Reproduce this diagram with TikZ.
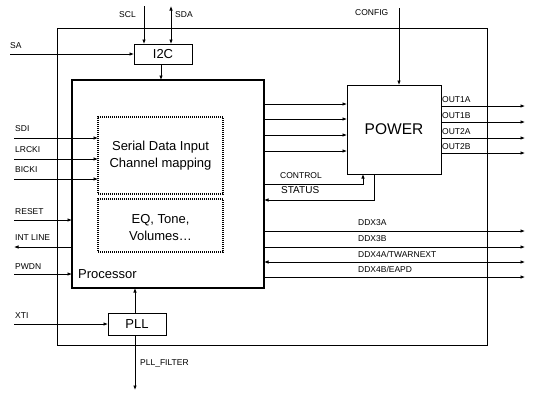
\documentclass[tikz,border=0pt]{standalone}
\usepackage{fontspec}
\setmainfont{Liberation Sans}
\usetikzlibrary{arrows.meta}
\begin{document}
\begin{tikzpicture}[x=1pt,y=-1pt,
  arr/.style={-{Latex[length=4.5pt,width=3.6pt]}, line width=0.8pt},
  barr/.style={{Latex[length=4.5pt,width=3.6pt]}-{Latex[length=4.5pt,width=3.6pt]}, line width=0.8pt},
  lbl/.style={font=\fontsize{8.5}{10}\selectfont, inner sep=0pt, anchor=west},
  box/.style={draw, line width=0.8pt, inner sep=0pt, outer sep=0pt},
  dbox/.style={draw, line width=1.4pt, dash pattern=on 1pt off 1pt, inner sep=0pt, outer sep=0pt},
  big/.style={font=\fontsize{13}{17}\selectfont, align=center}]
\useasboundingbox (0,0) rectangle (537,402);
\fill[white] (0,0) rectangle (537,402);
% chip frame
\node[box, minimum width=430, minimum height=317] (frame) at (272,186.5) {};
% blocks
\node[box, fill=white, minimum width=58, minimum height=20, font=\fontsize{13}{15}\selectfont] (i2c) at (163,54) {I2C};
\node[draw, line width=2.5pt, fill=white, inner sep=0pt, outer sep=0pt, minimum width=192, minimum height=208] (proc) at (168,184) {};
\node[font=\fontsize{13}{15}\selectfont, inner sep=0pt, anchor=west] (proclbl) at (78,274) {Processor};
\node[dbox, minimum width=125, minimum height=77] (sdi) at (160.5,155.5) {};
\node[big] (sditxt) at (sdi.center) {Serial Data Input\\Channel mapping};
\node[dbox, minimum width=125, minimum height=53] (eq) at (160.5,225.5) {};
\node[big] (eqtxt) at (160.5,228) {EQ, Tone,\\Volumes\ldots};
\node[box, fill=white, minimum width=58, minimum height=22, font=\fontsize{13}{15}\selectfont] (pll) at (137,324) {PLL};
\node[box, fill=white, minimum width=94, minimum height=89, font=\fontsize{15.5}{17}\selectfont] (power) at (394,129.5) {POWER};
% free ends
\coordinate (sclin) at (144,6);
\coordinate (sdaout) at (171,6);
\coordinate (sain) at (10,54);
\coordinate (cfgin) at (399,8);
\coordinate (pllout) at (135,390);
\coordinate (xtiin) at (14,324);
% I2C connections
\draw[arr] (sclin) -- (sclin |- i2c.north);
\draw[barr] (sdaout) -- (sdaout |- i2c.north);
\draw[arr] (sain) -- (i2c.west |- sain);
\draw[arr] (161,64) -- (161,80);
% inputs to serial block
\foreach \yy/\nm in {138/SDI,159/LRCKI,179/BICKI}{
  \draw[arr] (14,\yy) -- (sdi.west |- 0,\yy);
  \node[lbl] at (15,\yy-9.5) {\nm};
}
% control lines
\draw[arr] (14,220) -- (proc.west |- 0,220);
\node[lbl] at (15,212) {RESET};
\draw[arr] (proc.west |- 0,247) -- (14,247);
\node[lbl] at (15,238) {INT LINE};
\draw[arr] (14,274) -- (proc.west |- 0,274);
\node[lbl] at (15,267) {PWDN};
% PLL
\draw[arr] (xtiin) -- (pll.west |- xtiin);
\node[lbl] at (15,315.5) {XTI};
\draw[arr] (pll.north -| 135,0) -- (135,288);
\draw[arr] (pll.south -| pllout) -- (pllout);
\node[lbl] at (140,363) {PLL\_FILTER};
% labels at top
\node[lbl] at (119,15) {SCL};
\node[lbl] at (175,15) {SDA};
\node[lbl] at (10,46) {SA};
\node[lbl] at (355,13) {CONFIG};
\draw[arr] (cfgin) -- (cfgin |- power.north);
% processor to power
\foreach \yy in {104,119,135,151}{
  \draw[arr] (proc.east |- 0,\yy) -- (power.west |- 0,\yy);
}
% power outputs
\foreach \yy/\nm in {106/OUT1A,122/OUT1B,138/OUT2A,153/OUT2B}{
  \draw[arr] (power.east |- 0,\yy) -- (525,\yy);
  \node[lbl] at (442,\yy-6) {\nm};
}
% control / status
\draw[arr] (proc.east |- 0,184) -- (363,184) -- (363,174);
\node[lbl] at (280,176) {CONTROL};
\draw[arr] (374,174) -- (374,200) -- (proc.east |- 0,200);
\node[lbl, font=\fontsize{10}{12}\selectfont] at (281,190.5) {STATUS};
% DDX outputs
\draw[arr] (proc.east |- 0,231) -- (525,231);
\node[lbl] at (358,223) {DDX3A};
\draw[arr] (proc.east |- 0,247) -- (525,247);
\node[lbl] at (358,239) {DDX3B};
\draw[barr] (proc.east |- 0,262) -- (525,262);
\node[lbl] at (358,254) {DDX4A/TWARNEXT};
\draw[arr] (proc.east |- 0,277) -- (525,277);
\node[lbl] at (358,269) {DDX4B/EAPD};
\end{tikzpicture}
\end{document}
